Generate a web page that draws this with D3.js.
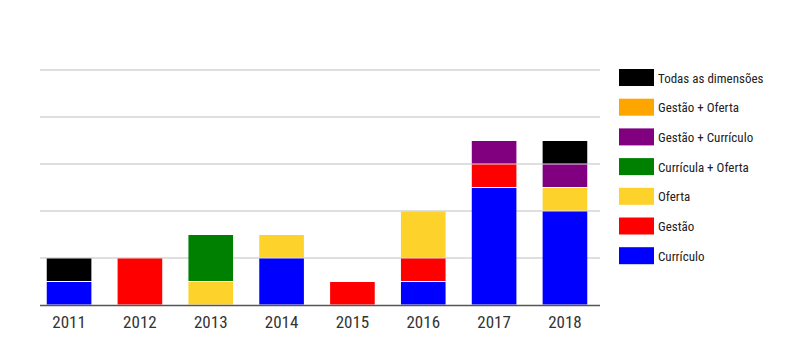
<!DOCTYPE html>
<html>
<head>
<meta charset="utf-8">
<script src="https://cdn.jsdelivr.net/npm/d3@7"></script>
<style>
  body { margin: 0; background: #fff; }
  svg text { font-family: "Liberation Sans Narrow", "Roboto Condensed", "Liberation Sans", sans-serif; }
</style>
</head>
<body>
<div id="chart"></div>
<script>
// Data
const years = ["2011", "2012", "2013", "2014", "2015", "2016", "2017", "2018"];
// stacking order, bottom to top
const seriesNames = ["Currículo", "Gestão", "Oferta", "Currícula + Oferta", "Gestão + Currículo", "Gestão + Oferta", "Todas as dimensões"];
const curriculo       = [1, 0, 0, 2, 0, 1, 5, 4];
const gestao          = [0, 2, 0, 0, 1, 1, 1, 0];
const oferta          = [0, 0, 1, 1, 0, 2, 0, 1];
const curriculaOferta = [0, 0, 2, 0, 0, 0, 0, 0];
const gestaoCurriculo = [0, 0, 0, 0, 0, 0, 1, 1];
const gestaoOferta    = [0, 0, 0, 0, 0, 0, 0, 0];
const todas           = [1, 0, 0, 0, 0, 0, 0, 1];
const colors = ["#0000ff", "#ff0000", "#fdd22b", "#008000", "#800080", "#ffa500", "#000000"];
const gridTicks = [0, 2, 4, 6, 8, 10];

const W = 800, H = 350;
const svg = d3.select("#chart").append("svg").attr("width", W).attr("height", H);

const allSeries = [curriculo, gestao, oferta, curriculaOferta, gestaoCurriculo, gestaoOferta, todas];
const table = years.map((y, i) => {
  const row = { year: y };
  seriesNames.forEach((s, k) => row[s] = allSeries[k][i]);
  return row;
});

const x = d3.scaleBand().domain(years).range([34, 600]).paddingInner(0.37).paddingOuter(0.18);
const y = d3.scaleLinear().domain([0, 10]).range([305, 70]);

// gridlines
svg.append("g").selectAll("line")
  .data(gridTicks.slice(1))
  .enter().append("line")
  .attr("x1", 40).attr("x2", 600)
  .attr("y1", d => y(d)).attr("y2", d => y(d))
  .style("stroke", "#d4d4d4").style("stroke-width", 1.5);

// stacked bars
const stacked = d3.stack().keys(seriesNames)(table);
const layers = svg.append("g").selectAll("g")
  .data(stacked)
  .enter().append("g")
  .style("fill", (d, i) => colors[i]);

layers.selectAll("rect")
  .data(d => d.filter(s => s[1] - s[0] > 0))
  .enter().append("rect")
  .attr("x", d => x(d.data.year))
  .attr("width", x.bandwidth())
  .attr("y", d => y(d[1]) + 0.5)
  .attr("height", d => y(d[0]) - y(d[1]) - 1);

// baseline
svg.append("line")
  .attr("x1", 40).attr("x2", 600)
  .attr("y1", y(0) + 0.5).attr("y2", y(0) + 0.5)
  .style("stroke", "#555").style("stroke-width", 1.5);

// x axis labels
const xAxis = d3.axisBottom(x).tickSize(0).tickPadding(10);
const ax = svg.append("g")
  .attr("transform", `translate(0, ${y(0) + 1})`)
  .call(xAxis);
ax.select(".domain").remove();
ax.selectAll("text")
  .style("font-size", "17px")
  .style("fill", "#333");

// legend (top to bottom: reverse of stack order)
const legendItems = seriesNames.map((s, i) => ({ name: s, color: colors[i] })).reverse();
const legend = svg.append("g").attr("transform", "translate(619, 69)");
const item = legend.selectAll("g")
  .data(legendItems)
  .enter().append("g")
  .attr("transform", (d, i) => `translate(0, ${i * 29.7})`);
item.append("rect")
  .attr("width", 35).attr("height", 17)
  .style("fill", d => d.color);
item.append("text")
  .attr("x", 39).attr("y", 9)
  .attr("dy", "0.35em")
  .style("font-size", "13px")
  .style("fill", "#222")
  .text(d => d.name);
</script>
</body>
</html>
